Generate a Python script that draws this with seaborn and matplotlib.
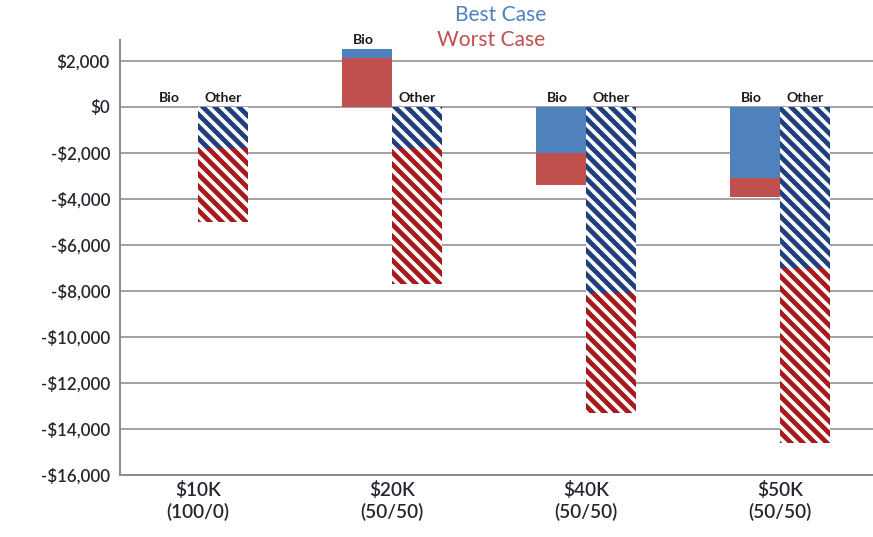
import pandas as pd
import matplotlib
matplotlib.use("Agg")
import matplotlib.pyplot as plt
import seaborn as sns

# ── Data ───────────────────────────────────────────────────────────────────────
categories  = ["$10K\n(100/0)", "$20K\n(50/50)", "$40K\n(50/50)", "$50K\n(50/50)"]
groups      = ["Bio", "Other"]
bio_best    = [0, 2500, -2000, -3100]
bio_worst   = [0, 2100, -3400, -3900]
other_best  = [-1800, -1800, -8100, -7000]
other_worst = [-5000, -7700, -13300, -14600]
y_ticks     = list(range(-16000, 2001, 2000))

BLUE, RED = "#4F81BD", "#C0504D"
HATCH_BLUE, HATCH_RED = "#1F3F7F", "#A8191C"

# long table: the larger-magnitude case sits behind, the smaller one in front
rows = []
for i, cat in enumerate(categories):
    for grp, best, worst in (("Bio", bio_best[i], bio_worst[i]),
                             ("Other", other_best[i], other_worst[i])):
        pair = sorted([("Best", best), ("Worst", worst)], key=lambda t: -abs(t[1]))
        for layer, (case, val) in enumerate(pair):
            rows.append({"category": cat, "group": grp, "case": case,
                         "value": val, "layer": layer})
df = pd.DataFrame(rows)

# ── Plot ───────────────────────────────────────────────────────────────────────
sns.set_style("white")
plt.rcParams["font.family"] = ["Lato", "DejaVu Sans"]
plt.rcParams["hatch.linewidth"] = 4.8

fig = plt.figure(figsize=(873 / 72, 537 / 72), dpi=72)
ax = fig.add_axes([120 / 873, 1 - 475 / 537, 1 - 120 / 873, 435 / 537])

for layer in (0, 1):
    sub = df[df["layer"] == layer]
    n0 = len(ax.patches)
    sns.barplot(data=sub, x="category", y="value", hue="group",
                order=categories, hue_order=groups, dodge=True, width=0.515,
                errorbar=None, legend=False, ax=ax, zorder=3)
    for p in ax.patches[n0:]:
        cx = p.get_x() + p.get_width() / 2
        idx = int(round(cx))
        grp = "Bio" if cx < idx else "Other"
        r = sub[(sub["category"] == categories[idx]) & (sub["group"] == grp)].iloc[0]
        p.set_linewidth(0)
        if grp == "Bio":
            p.set_facecolor(BLUE if r["case"] == "Best" else RED)
            p.set_edgecolor("none")
        else:
            p.set_facecolor("white")
            p.set_edgecolor(HATCH_BLUE if r["case"] == "Best" else HATCH_RED)
            p.set_hatch("\\\\")

# Bio / Other labels above each pair
for i in range(len(categories)):
    for grp, best, worst, dx in (("Bio", bio_best[i], bio_worst[i], -0.15),
                                 ("Other", other_best[i], other_worst[i], 0.13)):
        top = max(0, best, worst)
        ax.text(i + dx, top + 120, grp, ha="center", va="bottom",
                fontsize=14, fontweight="bold", color="#1a1a1a")

ax.set_xlim(-0.402, 3.479)
ax.set_ylim(-16000, 2900)
ax.set_yticks(y_ticks)
ax.set_yticklabels([f"-${abs(v):,}" if v < 0 else f"${v:,}" for v in y_ticks])
ax.yaxis.grid(True, color="#8c8c8c", linewidth=1.6, zorder=0)
ax.set_axisbelow(True)
ax.set_xlabel("")
ax.set_ylabel("")

for s in ("top", "right"):
    ax.spines[s].set_visible(False)
for s in ("left", "bottom"):
    ax.spines[s].set_color("#8c8c8c")
    ax.spines[s].set_linewidth(2)

ax.tick_params(axis="y", length=6, width=1.6, color="#8c8c8c", pad=4,
               labelsize=17, labelcolor="#262630")
ax.tick_params(axis="x", length=0, pad=6, labelsize=19, labelcolor="#262630")
for lbl in ax.get_yticklabels() + ax.get_xticklabels():
    lbl.set_fontweight("semibold")
for lbl in ax.get_xticklabels():
    lbl.set_linespacing(1.3)

fig.text(501 / 873, 1 - 15 / 537, "Best Case", color=BLUE, fontsize=21,
         ha="center", va="center")
fig.text(491 / 873, 1 - 40 / 537, "Worst Case", color=RED, fontsize=21,
         ha="center", va="center")

fig.savefig("out.png", dpi=72)
